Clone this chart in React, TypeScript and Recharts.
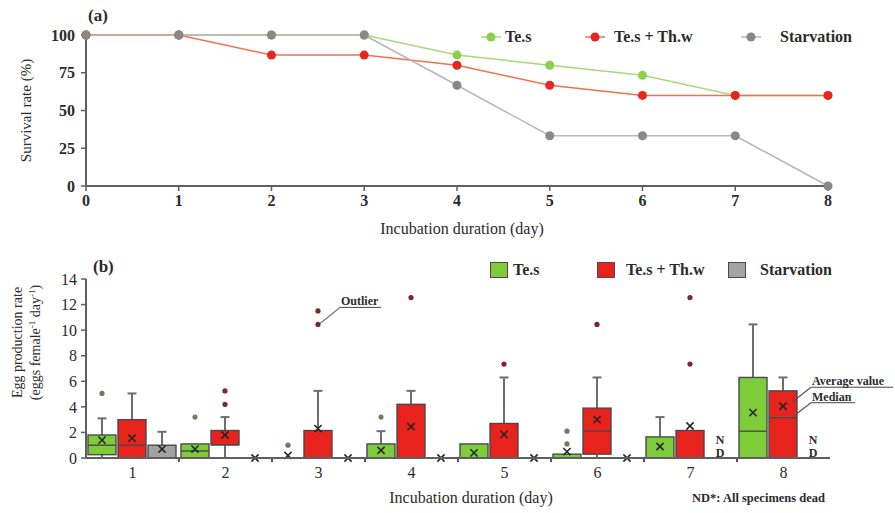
import React from "react";
import { LineChart, Line, BarChart, Bar, XAxis, YAxis, Label } from "recharts";

// (a) survival rate, per day 0..8
const survDays = [0, 1, 2, 3, 4, 5, 6, 7, 8];
const survTes = [100, 100, 100, 100, 86.7, 80, 73.3, 60, 60];
const survMix = [100, 100, 86.7, 86.7, 80, 66.7, 60, 60, 60];
const survStarv = [100, 100, 100, 100, 66.7, 33.3, 33.3, 33.3, 0];
const survTicks = [0, 25, 50, 75, 100];

// (b) egg production rate, box plot stats per day 1..8
const eggDays = ["1", "2", "3", "4", "5", "6", "7", "8"];
const eggTicks = [0, 2, 4, 6, 8, 10, 12, 14];

const tesQ1 = [0.26, 0, 0, 0, 0, 0, 0, 0];
const tesQ3 = [1.8, 1.1, 0, 1.1, 1.1, 0.3, 1.65, 6.3];
const tesMed = [1.0, 0.55, 0, 0, 0, 0, 0, 2.1];
const tesMean = [1.4, 0.7, 0.2, 0.6, 0.4, 0.5, 0.9, 3.55];
const tesHi = [3.1, 1.1, 0, 2.1, 1.1, 0.3, 3.2, 10.45];
const tesOut = [[5.05], [3.2], [1.0], [3.2], [], [1.1, 2.1], [], []];

const mixQ1 = [0, 1.03, 0, 0, 0, 0.3, 0, 0];
const mixQ3 = [3.0, 2.15, 2.15, 4.2, 2.7, 3.9, 2.15, 5.25];
const mixMed = [1.0, 1.03, 0, 0, 0, 2.1, 0, 3.15];
const mixMean = [1.55, 1.8, 2.3, 2.45, 1.85, 3.0, 2.5, 4.05];
const mixHi = [5.05, 3.2, 5.25, 5.25, 6.3, 6.3, 2.15, 6.3];
const mixOut = [[], [4.2, 5.25], [10.45, 11.5], [12.55], [7.35], [10.45], [7.35, 12.55], []];

const starvQ1 = [0, 0, 0, 0, 0, 0, null, null];
const starvQ3 = [1.0, 0, 0, 0, 0, 0, null, null];
const starvMed = [0, 0, 0, 0, 0, 0, null, null];
const starvMean = [0.7, 0, 0, 0, 0, 0, null, null];
const starvHi = [2.05, 0, 0, 0, 0, 0, null, null];
const starvOut = [[], [], [], [], [], [], [], []];

const FONT = "Liberation Serif, DejaVu Serif, Times New Roman, serif";
const TEXT = "#2b2b2b";
const AXIS = "#5f5f5f";

type BoxSeries = {
  key: string;
  name: string;
  fill: string;
  dot: string;
  q1: (number | null)[];
  q3: (number | null)[];
  med: (number | null)[];
  mean: (number | null)[];
  hi: (number | null)[];
  out: number[][];
};

const boxSeries: BoxSeries[] = [
  { key: "tes", name: "Te.s", fill: "#7fcc3a", dot: "#6c7d5e", q1: tesQ1, q3: tesQ3, med: tesMed, mean: tesMean, hi: tesHi, out: tesOut },
  { key: "mix", name: "Te.s + Th.w", fill: "#e8221c", dot: "#7a2828", q1: mixQ1, q3: mixQ3, med: mixMed, mean: mixMean, hi: mixHi, out: mixOut },
  { key: "starv", name: "Starvation", fill: "#a3a3a3", dot: "#555", q1: starvQ1, q3: starvQ3, med: starvMed, mean: starvMean, hi: starvHi, out: starvOut },
];

const lineSeries = [
  { key: "tes", name: "Te.s", line: "#a6d97a", dot: "#8ccf4c" },
  { key: "mix", name: "Te.s + Th.w", line: "#f2704e", dot: "#e8261e" },
  { key: "starv", name: "Starvation", line: "#bbb4b4", dot: "#8a8787" },
];

const survRows = survDays.map((d, i) => ({
  day: d,
  tes: survTes[i],
  mix: survMix[i],
  starv: survStarv[i],
}));

const eggRows = eggDays.map((d, i) => ({ day: d, idx: i }));

const rangeOf = (s: BoxSeries) => (row: any) => {
  const i = row.idx;
  if (s.q3[i] == null) return [0, 0];
  return [0, Math.max(s.q3[i] as number, s.hi[i] as number, s.mean[i] as number, ...s.out[i])];
};

function makeBoxShape(s: BoxSeries) {
  return (props: any) => {
    const { x, y, width, height, payload } = props;
    const i = payload.idx;
    const cx = x + width / 2;
    const base = y + height;
    if (s.q3[i] == null) {
      return (
        <g fontFamily={FONT} fontWeight="bold" fontSize={12} fill={TEXT} textAnchor="middle">
          <text x={cx} y={base - 14}>N</text>
          <text x={cx} y={base - 1}>D</text>
        </g>
      );
    }
    const top = rangeOf(s)(payload)[1];
    const yOf = (v: number) => (top === 0 ? base : base - (v * height) / top);
    const q1 = s.q1[i] as number;
    const q3 = s.q3[i] as number;
    const yq1 = yOf(q1);
    const yq3 = yOf(q3);
    const yHi = yOf(s.hi[i] as number);
    const ym = yOf(s.mean[i] as number);
    const yMed = yOf(s.med[i] as number);
    const k = 3.6;
    return (
      <g>
        {(s.hi[i] as number) > q3 && (
          <g stroke="#6e6e6e" strokeWidth={2}>
            <line x1={cx} x2={cx} y1={yq3} y2={yHi} />
            <line x1={cx - 4.5} x2={cx + 4.5} y1={yHi} y2={yHi} />
          </g>
        )}
        {q1 > 0 && <line x1={cx} x2={cx} y1={yq1} y2={yOf(0)} stroke="#6e6e6e" strokeWidth={2} />}
        {q3 > q1 && (
          <rect x={x} y={yq3} width={width} height={yq1 - yq3} fill={s.fill} stroke="#4a4a4a" strokeWidth={1.4} />
        )}
        {q3 > q1 && (
          <line x1={x} x2={x + width} y1={yMed} y2={yMed} stroke="#4a4a4a" strokeWidth={1.4} />
        )}
        <g stroke="#262626" strokeWidth={1.6}>
          <line x1={cx - k} x2={cx + k} y1={ym - k} y2={ym + k} />
          <line x1={cx - k} x2={cx + k} y1={ym + k} y2={ym - k} />
        </g>
        {s.out[i].map((v, j) => (
          <circle key={j} cx={cx} cy={yOf(v)} r={2.6} fill={s.dot} />
        ))}
        {s.key === "mix" && i === 2 && (
          <g>
            <line x1={cx + 2} y1={yOf(10.45) - 1} x2={cx + 22} y2={yOf(10.45) - 17} stroke="#777" strokeWidth={1.3} />
            <line x1={cx + 22} y1={yOf(10.45) - 17} x2={cx + 63} y2={yOf(10.45) - 17} stroke="#444" strokeWidth={1} />
            <text x={cx + 23} y={yOf(10.45) - 19} fontFamily={FONT} fontWeight="bold" fontSize={12} fill={TEXT}>Outlier</text>
          </g>
        )}
        {s.key === "mix" && i === 7 && (
          <g fontFamily={FONT} fontWeight="bold" fontSize={12} fill={TEXT}>
            <line x1={cx + 9} y1={ym - 4} x2={cx + 28} y2={ym - 19} stroke="#555" strokeWidth={1.2} />
            <line x1={cx + 28} y1={ym - 19} x2={cx + 110} y2={ym - 19} stroke="#444" strokeWidth={1} />
            <text x={cx + 29} y={ym - 21}>Average value</text>
            <line x1={cx + 11} y1={yMed - 2} x2={cx + 28} y2={yMed - 15} stroke="#555" strokeWidth={1.2} />
            <line x1={cx + 28} y1={yMed - 15} x2={cx + 72} y2={yMed - 15} stroke="#444" strokeWidth={1} />
            <text x={cx + 29} y={yMed - 17}>Median</text>
          </g>
        )}
      </g>
    );
  };
}

const EggTick = (props: any) => {
  const { x, y, payload, index } = props;
  const off = payload && payload.offset ? payload.offset : 0;
  const axisY = y - 8;
  return (
    <g>
      <text x={x} y={y} dy={12} textAnchor="middle" fontFamily={FONT} fontSize={16} fill={TEXT}>
        {payload.value}
      </text>
      {index > 0 && off > 0 && (
        <line x1={x - off} x2={x - off} y1={axisY + 1} y2={axisY + 4} stroke="#555" strokeWidth={2} />
      )}
    </g>
  );
};

const EggYLabel = (props: any) => {
  const vb = props.viewBox || { x: 0, y: 0, width: 0, height: 0 };
  const cy = vb.y + vb.height / 2 - 26;
  return (
    <g fontFamily={FONT} fontSize={14} fill={TEXT} textAnchor="middle">
      <text transform={`translate(${vb.x + 22},${cy}) rotate(-90)`}>Egg production rate</text>
      <text transform={`translate(${vb.x + 40},${cy}) rotate(-90)`}>
        (eggs female<tspan dy={-5} fontSize={9}>-1</tspan>
        <tspan dy={5}> day</tspan>
        <tspan dy={-5} fontSize={9}>-1</tspan>
        <tspan dy={5}>)</tspan>
      </text>
    </g>
  );
};

function SurvLegend() {
  const lefts = [481, 585, 741];
  const textGap = [24, 29, 39];
  return (
    <>
      {lineSeries.map((s, i) => (
        <div key={s.key} style={{ position: "absolute", left: lefts[i], top: 28, display: "flex", alignItems: "center", height: 18 }}>
          <svg width={20} height={12}>
            <line x1={0} x2={20} y1={6} y2={6} stroke={s.line} strokeWidth={1.5} />
            <circle cx={10} cy={6} r={4.5} fill={s.dot} />
          </svg>
          <span style={{ marginLeft: textGap[i] - 20, fontFamily: FONT, fontWeight: "bold", fontSize: 16, color: TEXT }}>{s.name}</span>
        </div>
      ))}
    </>
  );
}

function EggLegend() {
  const lefts = [490, 597, 728];
  const textGap = [23, 29, 32];
  return (
    <>
      {boxSeries.map((s, i) => (
        <div key={s.key} style={{ position: "absolute", left: lefts[i], top: 261, display: "flex", alignItems: "center", height: 18 }}>
          <div style={{ width: 18, height: 16, background: s.fill, border: "1px solid #4a4a4a", boxSizing: "border-box" }} />
          <span style={{ marginLeft: textGap[i] - 18, fontFamily: FONT, fontWeight: "bold", fontSize: 16, color: TEXT }}>{s.name}</span>
        </div>
      ))}
    </>
  );
}

export default function App() {
  const tickStyle = { fontFamily: FONT, fontSize: 16, fontWeight: "bold", fill: TEXT };
  return (
    <div style={{ position: "absolute", left: 0, top: 0, width: 895, height: 513, background: "#fff", overflow: "hidden", fontFamily: FONT }}>
      <div style={{ position: "absolute", left: 0, top: 0 }}>
        <LineChart width={895} height={250} data={survRows} margin={{ top: 35, right: 67, bottom: 14, left: 0 }} style={{ fontFamily: FONT }}>
          <XAxis
            dataKey="day"
            type="number"
            domain={[0, 8]}
            ticks={survDays}
            height={50}
            tick={tickStyle}
            tickSize={5}
            tickMargin={4}
            axisLine={{ stroke: AXIS, strokeWidth: 2 }}
            tickLine={{ stroke: AXIS, strokeWidth: 1.5 }}
          >
            <Label value="Incubation duration (day)" position="insideBottom" offset={2} dx={5} style={{ fontFamily: FONT, fontSize: 16, fill: TEXT }} />
          </XAxis>
          <YAxis
            type="number"
            domain={[0, 100]}
            ticks={survTicks}
            width={86}
            tick={tickStyle}
            tickSize={5}
            tickMargin={6}
            axisLine={{ stroke: AXIS, strokeWidth: 2 }}
            tickLine={{ stroke: AXIS, strokeWidth: 1.5 }}
          >
            <Label value="Survival rate (%)" angle={-90} position="insideLeft" offset={26} style={{ fontFamily: FONT, fontSize: 15, fill: TEXT, textAnchor: "middle" }} />
          </YAxis>
          {lineSeries.map((s) => (
            <Line
              key={s.key}
              type="linear"
              dataKey={s.key}
              name={s.name}
              stroke={s.line}
              strokeWidth={1.5}
              dot={{ r: 4.5, fill: s.dot, stroke: "none" }}
              activeDot={false}
              isAnimationActive={false}
            />
          ))}
        </LineChart>
        <div style={{ position: "absolute", left: 88, top: 6, fontFamily: FONT, fontWeight: "bold", fontSize: 17, color: TEXT }}>(a)</div>
        <SurvLegend />
      </div>

      <div style={{ position: "absolute", left: 0, top: 250 }}>
        <BarChart width={895} height={263} data={eggRows} margin={{ top: 29, right: 65, bottom: 10, left: 0 }} barCategoryGap={2} barGap={2} style={{ fontFamily: FONT }}>
          <XAxis
            dataKey="day"
            height={45}
            interval={0}
            tick={<EggTick />}
            tickLine={false}
            axisLine={{ stroke: AXIS, strokeWidth: 2 }}
          >
            <Label value="Incubation duration (day)" position="insideBottom" offset={0} dx={13} style={{ fontFamily: FONT, fontSize: 16, fill: TEXT }} />
          </XAxis>
          <YAxis
            type="number"
            domain={[0, 14]}
            ticks={eggTicks}
            width={86}
            tick={{ fontFamily: FONT, fontSize: 16, fill: TEXT }}
            tickSize={5}
            tickMargin={4}
            axisLine={{ stroke: AXIS, strokeWidth: 2 }}
            tickLine={{ stroke: AXIS, strokeWidth: 1.5 }}
          >
            <Label content={EggYLabel} />
          </YAxis>
          {boxSeries.map((s) => (
            <Bar key={s.key} dataKey={rangeOf(s)} name={s.name} fill={s.fill} shape={makeBoxShape(s)} isAnimationActive={false} />
          ))}
        </BarChart>
        <div style={{ position: "absolute", left: 93, top: 7, fontFamily: FONT, fontWeight: "bold", fontSize: 17, color: TEXT }}>(b)</div>
        <div style={{ position: "absolute", left: 692, top: 241, fontFamily: FONT, fontWeight: "bold", fontSize: 12.5, color: TEXT }}>ND*: All specimens dead</div>
      </div>
      <EggLegend />
    </div>
  );
}
